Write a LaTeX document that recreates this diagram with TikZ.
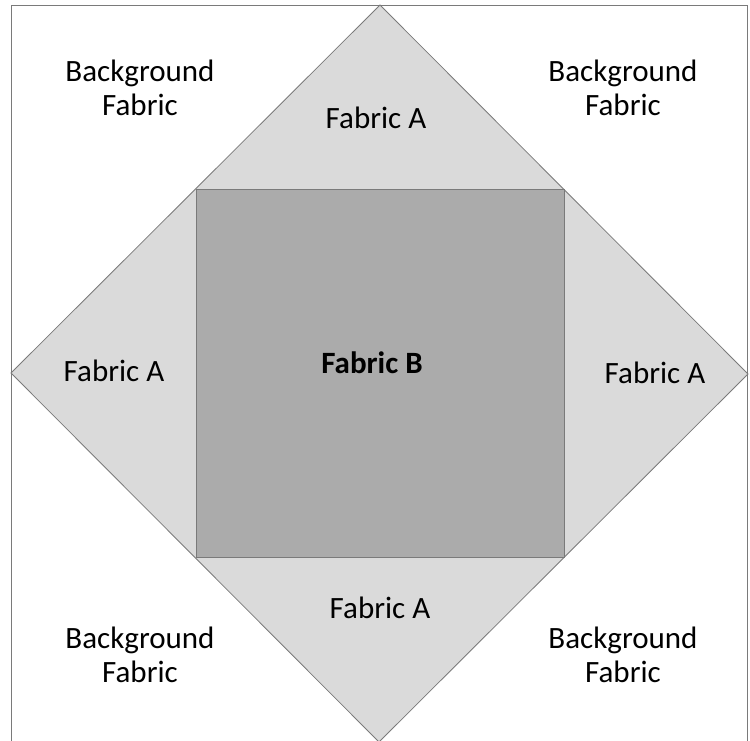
\documentclass[tikz,border=0pt]{standalone}
\usepackage{fontspec}
\setmainfont{Carlito}
\definecolor{fabricAcol}{HTML}{DADADA}
\definecolor{fabricBcol}{HTML}{ABABAB}
\definecolor{seamcol}{HTML}{7A7A7A}
\tikzset{
  seam/.style={draw=seamcol, line width=0.8pt},
  fabriclabel/.style={align=center, font=\fontsize{31}{34}\selectfont, inner sep=0pt},
}
\begin{document}
\begin{tikzpicture}[x=1pt, y=-1pt]

            % Cadre de l'image
            \useasboundingbox (0,0) rectangle (750,740);
            \clip (0,0) rectangle (750,740);

            % Les sommets du losange (Fabric A)
            \coordinate (Dt) at (380,5);
            \coordinate (Dr) at (748,374);
            \coordinate (Db) at (379,742);
            \coordinate (Dl) at (11,373);

            % Les coins du carre central (Fabric B)
            \coordinate (Q1) at (196,189);
            \coordinate (Q2) at (564,189);
            \coordinate (Q3) at (564,557);
            \coordinate (Q4) at (196,557);

            % Bloc de fond
            \draw[seam, fill=white] (11,5) rectangle (747,745);

            % Losange et carre
            \draw[seam, fill=fabricAcol] (Dt) -- (Dr) -- (Db) -- (Dl) -- cycle;
            \draw[seam, fill=fabricBcol] (Q1) -- (Q2) -- (Q3) -- (Q4) -- cycle;

            % Les textes des coins
            \node[fabriclabel] (bgTL) at (140,88) {Background\\Fabric};
            \node[fabriclabel] (bgTR) at (623,88) {Background\\Fabric};
            \node[fabriclabel] (bgBL) at (140,655) {Background\\Fabric};
            \node[fabriclabel] (bgBR) at (623,655) {Background\\Fabric};

            % Les quatre triangles et le centre
            \node[fabriclabel] (aTop) at (376,118) {Fabric A};
            \node[fabriclabel] (aLeft) at (114,371) {Fabric A};
            \node[fabriclabel] (aRight) at (655,373) {Fabric A};
            \node[fabriclabel] (aBottom) at (380,608) {Fabric A};
            \node[fabriclabel, font=\fontsize{31}{34}\selectfont\bfseries] (bCenter) at (372,363) {Fabric B};

        \end{tikzpicture}
\end{document}
